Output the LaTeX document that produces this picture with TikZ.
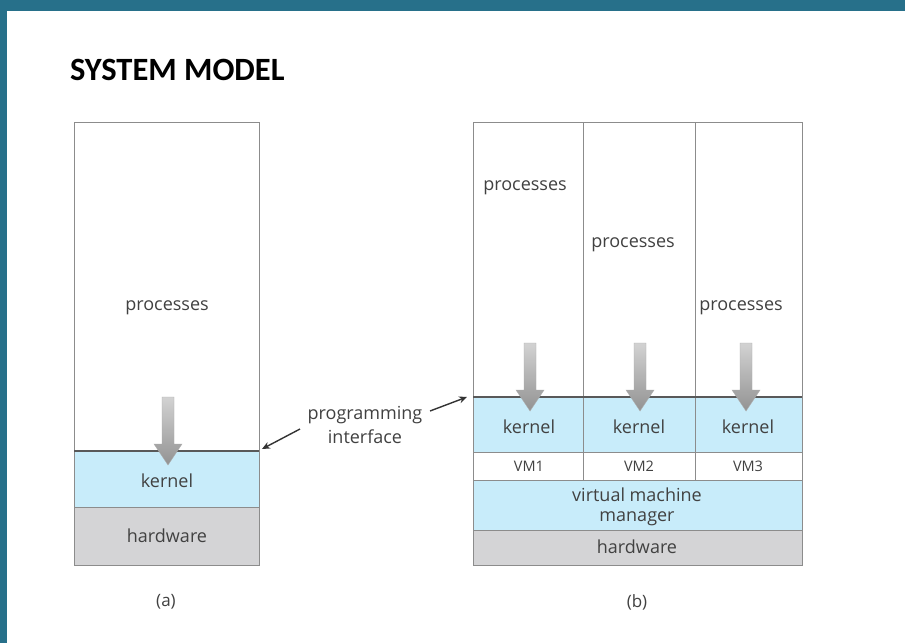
\documentclass[tikz,border=0pt]{standalone}
\usepackage{fontspec}
\setmainfont{Open Sans}
\newfontfamily\titlefont{Carlito}
\usetikzlibrary{arrows.meta}
\definecolor{teal0}{RGB}{39,112,138}
\definecolor{kblue}{RGB}{200,236,250}
\definecolor{hgray}{RGB}{212,212,214}
\definecolor{bord}{RGB}{140,140,140}
\definecolor{txt}{RGB}{65,65,65}
\tikzset{
  lbl/.style={font=\fontsize{18}{20}\selectfont, text=txt, inner sep=0pt},
  captxt/.style={font=\fontsize{17}{19}\selectfont, text=txt, inner sep=0pt},
  vmtxt/.style={font=\fontsize{14.5}{16}\selectfont, text=txt, inner sep=0pt},
  frame/.style={draw=bord, line width=1pt},
  iface/.style={line width=1.4pt, draw=black!80, -{Stealth[length=8pt,width=7pt]}},
}
\newcommand{\downarr}[3]{% x, ytop, ytip
  \shade[top color=gray!35, bottom color=gray!85, draw=gray!65, line width=0.4pt]
    (#1-6,#2) -- (#1+6,#2) -- (#1+6,#3-21) -- (#1+14,#3-21) -- (#1,#3) -- (#1-14,#3-21) -- (#1-6,#3-21) -- cycle;}
\begin{document}
\begin{tikzpicture}[x=1pt,y=-1pt]
\useasboundingbox (0,0) rectangle (905,643);
\fill[white] (0,0) rectangle (905,643);
\fill[teal0] (0,0) rectangle (905,11);
\fill[teal0] (0,0) rectangle (7,643);
\node[anchor=west, font=\titlefont\bfseries\fontsize{32.5}{35}\selectfont, inner sep=0pt] (title) at (70,70) {SYSTEM MODEL};

% ---- (a)
\fill[kblue] (74,451) rectangle (259,507);
\fill[hgray] (74,507) rectangle (259,565);
\draw[frame] (74,122) rectangle (259,565);
\draw[bord, line width=0.8pt] (74,507) -- (259,507);
\draw[black!65, line width=2pt] (74,451) -- (259,451);
\node[lbl] (procA) at (167,308) {processes};
\downarr{168}{397}{465}
\node[lbl] (kernA) at (167,481) {kernel};
\node[lbl] (hwA) at (167,536) {hardware};
\node[captxt] (capA) at (166,602) {(a)};

% ---- (b)
\fill[kblue] (473,397) rectangle (802,452);
\fill[kblue] (473,480) rectangle (802,530);
\fill[hgray] (473,530) rectangle (802,565);
\draw[frame] (473,122) rectangle (802,565);
\draw[bord, line width=1pt] (583,122) -- (583,480);
\draw[bord, line width=1pt] (695,122) -- (695,480);
\draw[bord, line width=0.8pt] (473,452) -- (802,452);
\draw[bord, line width=0.8pt] (473,480) -- (802,480);
\draw[bord, line width=0.8pt] (473,530) -- (802,530);
\draw[black!65, line width=2pt] (473,397) -- (802,397);
\node[lbl] (procB1) at (525,188) {processes};
\node[lbl] (procB2) at (633,245) {processes};
\node[lbl] (procB3) at (741,308) {processes};
\downarr{530}{343}{411}
\downarr{640}{343}{411}
\downarr{746}{343}{411}
\node[lbl] (kernB1) at (529,427) {kernel};
\node[lbl] (kernB2) at (639,427) {kernel};
\node[lbl] (kernB3) at (748,427) {kernel};
\node[vmtxt] (vm1) at (529,466) {VM1};
\node[vmtxt] (vm2) at (639,466) {VM2};
\node[vmtxt] (vm3) at (748,466) {VM3};
\node[lbl, align=center, font=\fontsize{18}{20}\selectfont] (vmm) at (637,507) {virtual machine\\manager};
\node[lbl] (hwB) at (637,547) {hardware};
\node[captxt] (capB) at (637,602) {(b)};

% ---- programming interface
\node[lbl, align=center, font=\fontsize{18}{24}\selectfont] (pi) at (365,425) {programming\\interface};
\coordinate (pa) at (262,449);
\coordinate (pb) at (467,397);
\coordinate (pas) at (300,429);
\coordinate (pbs) at (430,411);
\draw[iface] (pas) -- (pa);
\draw[iface] (pbs) -- (pb);
\end{tikzpicture}
\end{document}
